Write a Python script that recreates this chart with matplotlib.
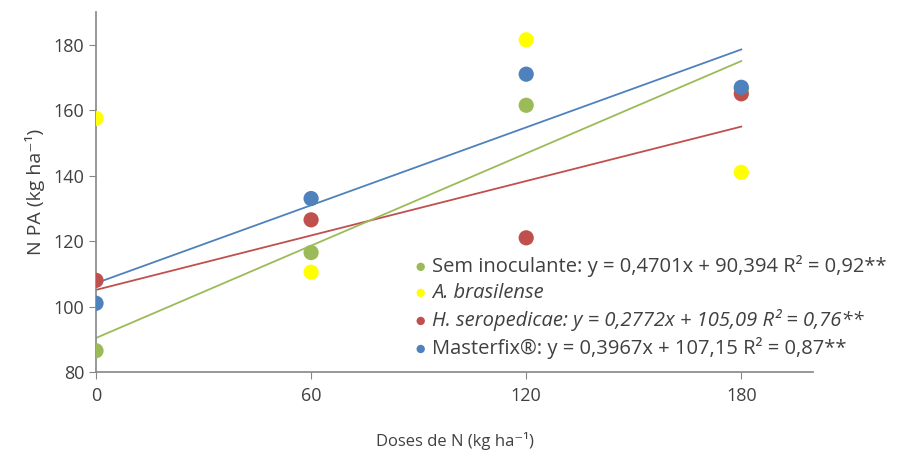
import matplotlib
matplotlib.use("Agg")
import matplotlib.pyplot as plt
import numpy as np

doses = [0, 60, 120, 180]
sem_inoculante = [86.5, 116.5, 161.5, 166.5]
a_brasilense = [157.5, 110.5, 181.5, 141.0]
h_seropedicae = [108.0, 126.5, 121.0, 165.0]
masterfix = [101.0, 133.0, 171.0, 167.0]

fit_slopes = {"sem": 0.4701, "hs": 0.2772, "mf": 0.3967}
fit_intercepts = {"sem": 90.394, "hs": 105.09, "mf": 107.15}

labels = [
    "Sem inoculante: y = 0,4701x + 90,394 R² = 0,92**",
    "A. brasilense",
    "H. seropedicae: y = 0,2772x + 105,09 R² = 0,76**",
    "Masterfix®: y = 0,3967x + 107,15 R² = 0,87**",
]
colors = ["#9BBB59", "#FFFF00", "#C0504D", "#4F81BD"]
italic = [False, True, True, False]

plt.rcParams['font.family'] = ['Open Sans', 'DejaVu Sans']

fig = plt.figure(figsize=(9.01, 4.55), dpi=100)
ax = fig.add_axes([96/901, (455-372)/455, (813-96)/901, (372-12)/455])

series = [sem_inoculante, a_brasilense, h_seropedicae, masterfix]
handles = []
for vals, col in zip(series, colors):
    h = ax.scatter(doses, vals, s=120, color=col, zorder=3, edgecolors='none')
    handles.append(h)
xs = np.array([doses[0], doses[-1]])
for key, col in [("hs", colors[2]), ("sem", colors[0]), ("mf", colors[3])]:
    ax.plot(xs, fit_slopes[key]*xs + fit_intercepts[key], color=col, lw=1.3, zorder=2)

ax.set_xlim(0, 200)
ax.set_ylim(80, 190)
ax.set_xticks(doses)
ax.set_yticks([80, 100, 120, 140, 160, 180])
for s in ["top", "right"]:
    ax.spines[s].set_visible(False)
for s in ["left", "bottom"]:
    ax.spines[s].set_color("#868686")
    ax.spines[s].set_linewidth(1.2)
ax.tick_params(axis='both', colors="#868686", labelcolor="#404040", labelsize=13, length=5)
ax.tick_params(axis='x', pad=6)
ax.set_ylabel("N PA (kg ha⁻¹)", fontsize=14, color="#404040", labelpad=6)
ax.set_xlabel("Doses de N (kg ha⁻¹)", fontsize=12, color="#404040", labelpad=19)

leg = ax.legend(handles, labels, loc='lower left', bbox_to_anchor=(0.429, 0.013),
                frameon=False, fontsize=14.5, handletextpad=0.1, labelspacing=0.3,
                handlelength=0.9, borderaxespad=0, markerscale=0.55)
for t, it in zip(leg.get_texts(), italic):
    t.set_color("#404040")
    if it:
        t.set_style('italic')

fig.savefig("out.png", dpi=100)
